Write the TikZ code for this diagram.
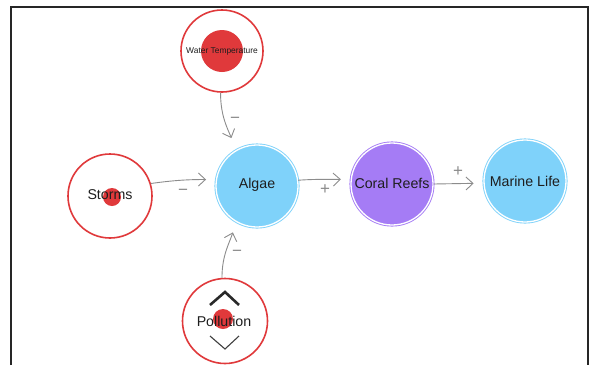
\documentclass[tikz,border=0pt]{standalone}
\usepackage{fontspec}
\setmainfont{Liberation Sans}
\usetikzlibrary{arrows.meta}
\definecolor{skyfill}{HTML}{7FD2FA}
\definecolor{violetfill}{HTML}{A57CF5}
\definecolor{alarm}{HTML}{E0393B}
\definecolor{linkgray}{HTML}{8C8C8C}
\definecolor{ink}{HTML}{1E1E1E}

\begin{document}
\begin{tikzpicture}[x=1pt,y=-1pt,
  factor/.style={circle, minimum size=#1, inner sep=0pt, draw=alarm, line width=1.6pt, fill=white},
  hub/.style={circle, minimum size=82pt, inner sep=0pt, draw=#1, fill=#1,
              double=white, double distance=1.3pt, line width=0.9pt},
  caption/.style={inner sep=0pt, text=ink, font=\fontsize{14.2}{14}\selectfont},
  link/.style={draw=linkgray, line width=0.9pt, -{Straight Barb[length=7pt,width=13pt]}},
  sign/.style={inner sep=0pt, text=linkgray, font=\fontsize{17}{17}\selectfont},
]
% page and window frame
\fill[white] (0,0) rectangle (592,365);
\useasboundingbox (0,0) rectangle (592,365);
\draw[black!85, line width=2.2pt] (11,365) -- (11,7) -- (588,7) -- (588,365);

% driver factors (red rings with a dot)
\node[factor=82pt] (wt) at (222,51) {};
\fill[alarm] (222,51) circle (21pt);
\node[caption, font=\fontsize{8.4}{8.4}\selectfont] (wtlabel) at (222,51) {Water Temperature};

\node[factor=84pt] (storms) at (110,196) {};
\fill[alarm] (112,197) circle (9pt);
\node[caption] (stormslabel) at (110,195) {Storms};

\node[factor=85pt] (poll) at (225,321) {};
\fill[alarm] (223,319) circle (10pt);
\node[caption] (polllabel) at (224,321) {Pollution};
% reorder controls on the selected factor
\coordinate (upL) at (210,305);
\coordinate (upT) at (225,292);
\coordinate (upR) at (239,305);
\draw[ink!95, line width=2.6pt] (upL) -- (upT) -- (upR);
\coordinate (dnL) at (210,336);
\coordinate (dnB) at (225,349);
\coordinate (dnR) at (239,336);
\draw[ink!85, line width=1.1pt] (dnL) -- (dnB) -- (dnR);

% ecosystem nodes
\node[hub=skyfill] (algae) at (257,186) {};
\node[caption] (algaelabel) at (257,185) {Algae};
\node[hub=violetfill] (coral) at (392,184) {};
\node[caption] (corallabel) at (392,183) {Coral Reefs};
\node[hub=skyfill] (marine) at (525,181) {};
\node[caption] (marinelabel) at (525,181) {Marine Life};

% causal links
\draw[link, shorten >=13pt] (wt.-92) to[out=-90, in=112] (algae.120);
\draw[link, shorten >=10pt] (storms.17) to[out=8, in=180] (algae.171);
\draw[link, shorten >=11pt] (poll.94) to[out=90, in=-108] (algae.-120);
\draw[link, shorten >=10pt] (algae.8) to[out=4, in=182] (coral.173);
\draw[link, shorten >=10pt] (coral.0) -- (marine.183);

% link polarities
\node[sign] (s1) at (235,120) {−};
\node[sign] (s2) at (183,192) {−};
\node[sign] (s3) at (237,253) {−};
\node[sign] (s4) at (325,190) {+};
\node[sign] (s5) at (458,172) {+};
\end{tikzpicture}
\end{document}
